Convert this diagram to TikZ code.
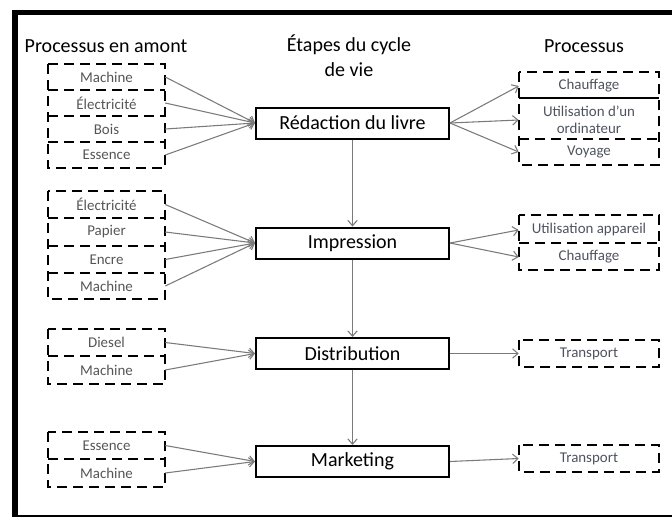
\documentclass[tikz,border=0pt]{standalone}
\usepackage{fontspec}
\setmainfont{Carlito}
\usetikzlibrary{arrows.meta}
\definecolor{txtgray}{HTML}{555555}
\definecolor{txtblue}{HTML}{4F5360}
\definecolor{arrgray}{HTML}{7A7A7A}
\begin{document}
\begin{tikzpicture}[x=0.75pt,y=-0.75pt,
  hdr/.style={font=\fontsize{15}{19}\selectfont, inner sep=0pt, align=center},
  stagebox/.style={draw=black, line width=1.5pt, minimum width=144.75pt, minimum height=23.25pt, inner sep=0pt, font=\fontsize{15}{18}\selectfont},
  lrow/.style={minimum width=87.75pt, inner sep=0pt, text=txtgray, font=\fontsize{11.2}{13}\selectfont},
  rrow/.style={minimum width=105pt, inner sep=0pt, text=txtblue, font=\fontsize{11.2}{13}\selectfont, align=center},
  dbox/.style={draw=black, line width=1.8pt, dash pattern=on 7.5pt off 4.5pt},
  sbox/.style={draw=black, line width=1pt},
  arr/.style={draw=arrgray, line width=0.8pt, -{Straight Barb[length=4pt,width=7pt]}},
  frame/.style={draw=black}
]
\useasboundingbox (0,0) rectangle (672,519);
% outer frame
\fill[black] (12,10) rectangle (18,517);
\fill[black] (12,10) rectangle (672,15);
\fill[black] (12,515) rectangle (672,517);

% headers
\node[hdr] (h1) at (106,46) {Processus en amont};
\node[hdr] (h2) at (349,56) {Étapes du cycle\\de vie};
\node[hdr] (h3) at (584,46) {Processus};

% stage boxes
\node[stagebox] (s1) at (352.5,123) {Rédaction du livre};
\node[stagebox] (s2) at (352.5,243) {Impression};
\node[stagebox] (s3) at (352.5,353.5) {Distribution};
\node[stagebox] (s4) at (352.5,461.5) {Marketing};

% left group 1
\draw[dbox] (48,64) rectangle (165,168);
\draw[dbox] (48,90) -- (165,90);
\draw[dbox] (48,116) -- (165,116);
\draw[dbox] (48,142) -- (165,142);
\node[lrow] (a1) at (106.5,77) {Machine};
\node[lrow] (a2) at (106.5,103) {Électricité};
\node[lrow] (a3) at (106.5,129) {Bois};
\node[lrow] (a4) at (106.5,155) {Essence};
% left group 2
\draw[dbox] (48,191) rectangle (165,299);
\draw[dbox] (48,218) -- (165,218);
\draw[dbox] (48,246) -- (165,246);
\draw[dbox] (48,273) -- (165,273);
\node[lrow] (b1) at (106.5,204.5) {Électricité};
\node[lrow] (b2) at (106.5,232) {Papier};
\node[lrow] (b3) at (106.5,259.5) {Encre};
\node[lrow] (b4) at (106.5,286) {Machine};
% left group 3
\draw[dbox] (48,329) rectangle (165,384);
\draw[dbox] (48,356) -- (165,356);
\node[lrow] (c1) at (106.5,342.5) {Diesel};
\node[lrow] (c2) at (106.5,370) {Machine};
% left group 4
\draw[dbox] (48,432) rectangle (165,487);
\draw[dbox] (48,459) -- (165,459);
\node[lrow] (d1) at (106.5,445.5) {Essence};
\node[lrow] (d2) at (106.5,473) {Machine};

% right group 1
\draw[dbox] (519,72) rectangle (659,165);
\draw[sbox] (519,98) -- (659,98);
\draw[dbox] (519,139) -- (659,139);
\node[rrow] (p1) at (589,86) {Chauffage};
\node[rrow] (p2) at (589,120) {Utilisation d’un\\ordinateur};
\node[rrow] (p3) at (589,152) {Voyage};
% right group 2
\draw[dbox] (519,215) rectangle (659,270);
\draw[dbox] (519,243) -- (659,243);
\node[rrow] (q1) at (589,230) {Utilisation appareil};
\node[rrow] (q2) at (589,257) {Chauffage};
% right singles
\draw[dbox] (519,340) rectangle (659,367);
\node[rrow] (t1) at (589,353.5) {Transport};
\draw[dbox] (519,445) rectangle (659,472);
\node[rrow] (t2) at (589,458.5) {Transport};

% arrows left
\foreach \n in {a1,a2,a3,a4} \draw[arr] (\n.east) -- (s1.west);
\foreach \n in {b1,b2,b3,b4} \draw[arr] (\n.east) -- (s2.west);
\foreach \n in {c1,c2} \draw[arr] (\n.east) -- (s3.west);
\foreach \n in {d1,d2} \draw[arr] (\n.east) -- (s4.west);
% arrows right
\foreach \n in {p1,p2,p3} \draw[arr] (s1.east) -- (\n.west);
\foreach \n in {q1,q2} \draw[arr] (s2.east) -- (\n.west);
\draw[arr] (s3.east) -- (t1.west);
\draw[arr] (s4.east) -- (t2.west);
% vertical arrows
\draw[arr] (s1.south) -- (s2.north);
\draw[arr] (s2.south) -- (s3.north);
\draw[arr] (s3.south) -- (s4.north);
\end{tikzpicture}
\end{document}
